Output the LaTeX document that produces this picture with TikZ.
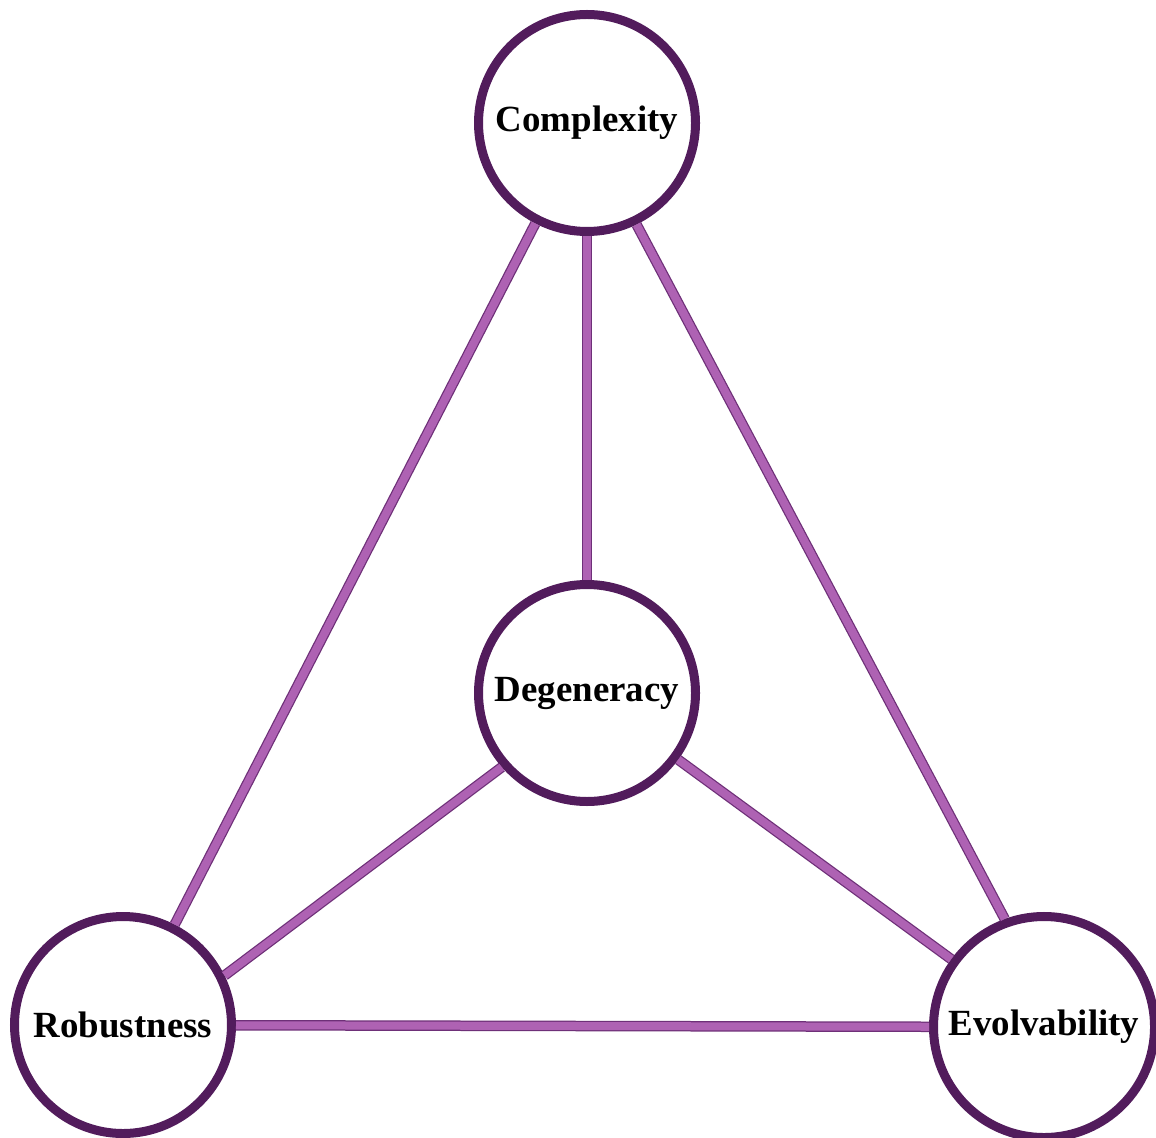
\documentclass[tikz,border=0pt]{standalone}
\usepackage{fontspec}
\setmainfont{Liberation Serif}
\definecolor{ringpurple}{HTML}{521C5C}
\definecolor{linkpurple}{HTML}{AE62B3}
\definecolor{linkedge}{HTML}{6E3078}
\begin{document}
\begin{tikzpicture}[
  concept/.style={circle, draw=ringpurple, line width=0.09cm, fill=white,
    minimum size=2.17cm, font=\fontsize{10.5}{12}\selectfont\bfseries},
  link/.style={draw=linkpurple, line width=0.08cm,
    preaction={draw=linkedge, line width=0.105cm}}
]

\useasboundingbox (0,0) rectangle (11.56,11.37);

\node[concept] (cx) at (5.87, 10.14) {Complexity};
\node[concept] (dg) at (5.87, 4.44) {Degeneracy};
\node[concept] (rb) at (1.23, 1.12) {Robustness};
\node[concept] (ev) at (10.44, 1.10) {Evolvability};

\draw[link] (cx) -- (dg);
\draw[link] (cx) -- (rb);
\draw[link] (cx.296) -- (ev.110);
\draw[link] (dg.221) -- (rb.26);
\draw[link] (dg) -- (ev);
\draw[link] (rb) -- (ev);

\end{tikzpicture}
\end{document}
